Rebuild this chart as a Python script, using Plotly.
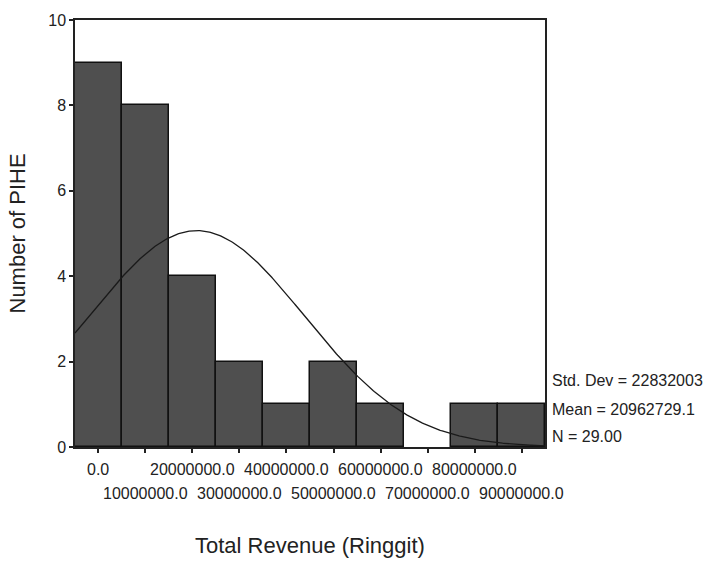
import numpy as np
import plotly.graph_objects as go

# Histogram of total revenue, bins of 10,000,000 Ringgit
bin_centers = [0, 10e6, 20e6, 30e6, 40e6, 50e6, 60e6, 70e6, 80e6, 90e6]
counts = [9, 8, 4, 2, 1, 2, 1, 0, 1, 1]
bin_width = 10e6
tick_labels = ["0.0", "10000000.0", "20000000.0", "30000000.0", "40000000.0",
               "50000000.0", "60000000.0", "70000000.0", "80000000.0", "90000000.0"]

# Summary statistics
std_dev = 22832003
mean = 20962729.1
n = 29

FONT = "Liberation Sans, Arial, sans-serif"
INK = "#222222"

fig = go.Figure()
fig.add_trace(go.Bar(
    x=bin_centers, y=counts, width=bin_width,
    marker=dict(color="#4f4f4f",
                line=dict(color="#111111",
                          width=[0 if c == 0 else 1.5 for c in counts])),
    showlegend=False, hoverinfo="x+y",
))

# Normal curve scaled to counts per bin
xc = np.linspace(-4.9e6, 94.9e6, 400)
yc = n * bin_width / (std_dev * np.sqrt(2 * np.pi)) * np.exp(-0.5 * ((xc - mean) / std_dev) ** 2)
fig.add_trace(go.Scatter(x=xc, y=yc, mode="lines",
                         line=dict(color="#1a1a1a", width=1.3),
                         showlegend=False, hoverinfo="skip"))

# Staggered x tick labels: even ticks on first row, odd ticks on second row
for i, (xv, lab) in enumerate(zip(bin_centers, tick_labels)):
    fig.add_annotation(x=xv, y=0, xref="x", yref="paper",
                       yanchor="middle", yshift=-22 if i % 2 == 0 else -46,
                       text=lab, showarrow=False,
                       font=dict(family=FONT, size=16, color=INK))

stats = [f"Std. Dev = {std_dev}", f"Mean = {mean}", f"N = {n:.2f}"]
for txt, yv in zip(stats, [1.55, 0.87, 0.25]):
    fig.add_annotation(x=1.0, y=yv, xref="paper", yref="y", xshift=5,
                       xanchor="left", yanchor="middle", text=txt,
                       showarrow=False,
                       font=dict(family=FONT, size=16, color=INK))

# Axis titles
fig.add_annotation(x=0.5, y=0, xref="paper", yref="paper", yshift=-98,
                   xanchor="center", yanchor="middle",
                   text="Total Revenue (Ringgit)", showarrow=False,
                   font=dict(family=FONT, size=22, color=INK))
fig.add_annotation(x=0, y=0.5, xref="paper", yref="paper", xshift=-58,
                   xanchor="center", yanchor="middle", textangle=-90,
                   text="Number of PIHE", showarrow=False,
                   font=dict(family=FONT, size=22, color=INK))

fig.update_layout(
    width=709, height=562,
    margin=dict(l=75, r=164, t=14, b=115),
    paper_bgcolor="white", plot_bgcolor="white",
    bargap=0,
    font=dict(family=FONT, color=INK),
    xaxis=dict(range=[-4.9e6, 94.9e6], tickvals=bin_centers, ticktext=[""] * len(bin_centers),
               ticks="outside", ticklen=4, tickwidth=2, tickcolor=INK,
               showline=True, linecolor=INK, linewidth=1.5, mirror=True,
               showgrid=False, zeroline=False),
    yaxis=dict(range=[0, 10], tickvals=[0, 2, 4, 6, 8, 10],
               ticks="outside", ticklen=4, tickwidth=2, tickcolor=INK,
               showline=True, linecolor=INK, linewidth=1.5, mirror=True,
               showgrid=False, zeroline=False,
               tickfont=dict(family=FONT, size=16, color=INK)),
)

fig.write_html("out.html")
